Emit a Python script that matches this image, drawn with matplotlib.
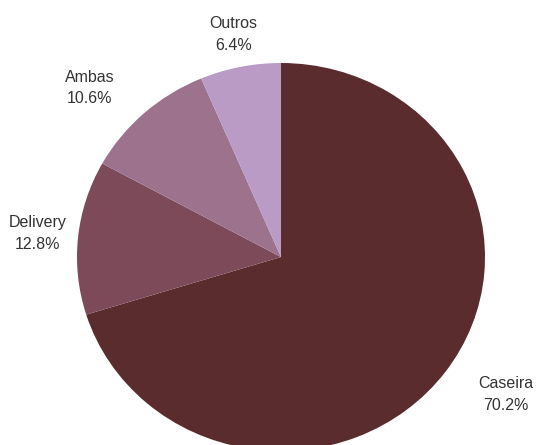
import matplotlib
matplotlib.use("Agg")
import matplotlib.pyplot as plt
import numpy as np

categories = ["Caseira", "Delivery", "Ambas", "Outros"]
values = [70.2, 12.8, 10.6, 6.4]
colors = ["#5a2c2e", "#7c4a59", "#9d728d", "#b99bc6"]

label_dist = [1.31, 1.20, 1.28, 1.17]
label_angle_shift = [3.6, 0, 5, 0]

W, H = 537, 445
fig = plt.figure(figsize=(W / 100, H / 100), dpi=100)
# pie box in pixels: x 77..485, y(top) 63..451
ax = fig.add_axes([77 / W, (H - 451) / H, 408 / W, 388 / H])
wedges, _ = ax.pie(values, startangle=90, counterclock=False, colors=colors,
                   wedgeprops=dict(linewidth=0))
ax.set_aspect("auto")
ax.set_xlim(-1, 1)
ax.set_ylim(-1, 1)
ax.axis("off")

for w, cat, val, d, sh in zip(wedges, categories, values, label_dist, label_angle_shift):
    mid = np.deg2rad((w.theta1 + w.theta2) / 2 + sh)
    ax.text(d * np.cos(mid), d * np.sin(mid), f"{cat}\n{val:.1f}%",
            ha="center", va="center", fontsize=11.5, color="#333333",
            family=["Liberation Sans", "DejaVu Sans"], linespacing=1.55,
            clip_on=False)

fig.savefig("out.png", dpi=100)
